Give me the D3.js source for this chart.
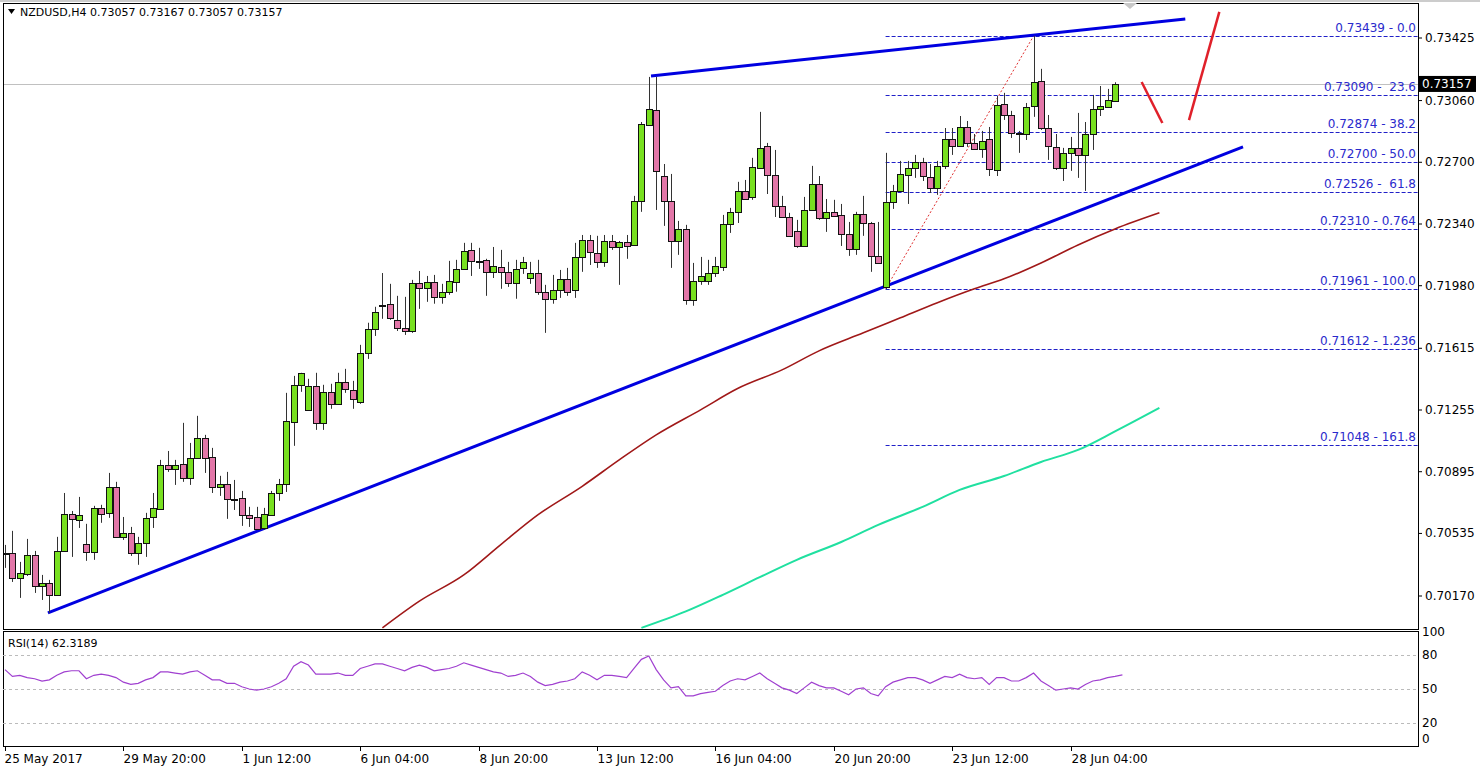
<!DOCTYPE html>
<html><head><meta charset="utf-8">
<script src="https://cdn.jsdelivr.net/npm/d3@7"></script>
<style>body{margin:0;background:#fff}svg{display:block}text{font-family:"DejaVu Sans",Verdana,sans-serif}</style>
</head><body><svg id="c" width="1480" height="772"></svg>
<script>
const opens=[0.70422,0.70422,0.70275,0.70299,0.70410,0.70229,0.70247,0.70177,0.70433,0.70649,0.70614,0.70474,0.70428,0.70684,0.70655,0.70807,0.70515,0.70538,0.70422,0.70480,0.70631,0.70678,0.70935,0.70911,0.70941,0.70859,0.70976,0.71092,0.70982,0.70807,0.70824,0.70737,0.70742,0.70643,0.70631,0.70567,0.70643,0.70771,0.70824,0.71185,0.71402,0.71256,0.71396,0.71180,0.71361,0.71291,0.71419,0.71372,0.71302,0.71588,0.71728,0.71863,0.71875,0.71781,0.71734,0.71716,0.71997,0.71968,0.72002,0.71915,0.71945,0.72002,0.72078,0.72189,0.72125,0.72131,0.72061,0.72090,0.72061,0.71997,0.72084,0.72025,0.72055,0.71945,0.71904,0.71956,0.72020,0.71956,0.72148,0.72247,0.72171,0.72119,0.72241,0.72206,0.72236,0.72218,0.72475,0.72918,0.73005,0.72620,0.72475,0.72241,0.72311,0.71898,0.72008,0.72008,0.72055,0.72090,0.72340,0.72411,0.72533,0.72498,0.72667,0.72796,0.72626,0.72445,0.72381,0.72300,0.72212,0.72422,0.72573,0.72375,0.72411,0.72393,0.72282,0.72195,0.72399,0.72346,0.72154,0.71973,0.72469,0.72533,0.72626,0.72667,0.72702,0.72614,0.72550,0.72679,0.72836,0.72796,0.72906,0.72813,0.72778,0.72836,0.72655,0.73041,0.72976,0.72871,0.72865,0.73029,0.73175,0.72900,0.72790,0.72667,0.72755,0.72784,0.72743,0.72865,0.73011,0.73023,0.73057];
const highs=[0.70468,0.70550,0.70369,0.70503,0.70433,0.70293,0.70264,0.70515,0.70771,0.70666,0.70748,0.70591,0.70696,0.70702,0.70888,0.70836,0.70631,0.70573,0.70515,0.70655,0.70771,0.70964,0.71016,0.70964,0.71180,0.71063,0.71221,0.71110,0.71034,0.70871,0.70894,0.70847,0.70783,0.70690,0.70690,0.70684,0.70783,0.70853,0.71355,0.71454,0.71472,0.71437,0.71472,0.71402,0.71408,0.71472,0.71495,0.71425,0.71635,0.71764,0.71857,0.72054,0.71991,0.71921,0.71915,0.72014,0.72066,0.72037,0.72043,0.71991,0.72125,0.72131,0.72230,0.72230,0.72201,0.72137,0.72206,0.72189,0.72119,0.72131,0.72148,0.72119,0.72131,0.71985,0.72043,0.72072,0.72084,0.72230,0.72276,0.72276,0.72271,0.72276,0.72276,0.72241,0.72276,0.72504,0.72935,0.73198,0.73198,0.72690,0.72632,0.72358,0.72335,0.72113,0.72148,0.72131,0.72148,0.72393,0.72434,0.72586,0.72597,0.72726,0.72994,0.72813,0.72772,0.72504,0.72405,0.72364,0.72498,0.72679,0.72620,0.72486,0.72481,0.72457,0.72352,0.72411,0.72504,0.72352,0.72352,0.72755,0.72568,0.72708,0.72708,0.72743,0.72726,0.72690,0.72708,0.72900,0.72900,0.72970,0.72941,0.72865,0.72883,0.72906,0.73087,0.73105,0.73000,0.72883,0.73046,0.73437,0.73245,0.72976,0.72865,0.72784,0.72848,0.72988,0.72935,0.73093,0.73145,0.73128,0.73167];
const lows=[0.70334,0.70252,0.70159,0.70287,0.70188,0.70147,0.70072,0.70177,0.70433,0.70398,0.70567,0.70375,0.70381,0.70597,0.70626,0.70515,0.70497,0.70404,0.70352,0.70398,0.70567,0.70672,0.70894,0.70818,0.70836,0.70818,0.70970,0.70888,0.70771,0.70754,0.70620,0.70672,0.70579,0.70573,0.70556,0.70556,0.70643,0.70725,0.70777,0.71046,0.71361,0.71256,0.71139,0.71139,0.71262,0.71285,0.71355,0.71262,0.71291,0.71553,0.71687,0.71787,0.71781,0.71716,0.71693,0.71705,0.71845,0.71886,0.71875,0.71875,0.71927,0.71945,0.72072,0.72037,0.72078,0.71921,0.72025,0.71962,0.71973,0.71904,0.72049,0.71991,0.71927,0.71705,0.71875,0.71909,0.71921,0.71909,0.72061,0.72101,0.72084,0.72090,0.72189,0.71985,0.72137,0.72212,0.72411,0.72912,0.72422,0.72329,0.72084,0.72160,0.71869,0.71863,0.71985,0.71985,0.72031,0.72066,0.72288,0.72346,0.72481,0.72481,0.72667,0.72515,0.72381,0.72375,0.72265,0.72201,0.72212,0.72422,0.72364,0.72294,0.72393,0.72212,0.72154,0.72160,0.72271,0.72061,0.72107,0.71961,0.72428,0.72533,0.72457,0.72609,0.72591,0.72521,0.72510,0.72661,0.72743,0.72790,0.72790,0.72772,0.72726,0.72620,0.72620,0.72947,0.72842,0.72755,0.72830,0.72965,0.72889,0.72714,0.72655,0.72591,0.72650,0.72609,0.72533,0.72772,0.72970,0.73017,0.73057];
const closes=[0.70422,0.70275,0.70305,0.70410,0.70229,0.70247,0.70177,0.70433,0.70649,0.70620,0.70643,0.70428,0.70684,0.70649,0.70807,0.70515,0.70538,0.70422,0.70480,0.70626,0.70684,0.70935,0.70911,0.70935,0.70859,0.70976,0.71092,0.70976,0.70807,0.70824,0.70737,0.70737,0.70643,0.70626,0.70562,0.70649,0.70771,0.70824,0.71191,0.71402,0.71472,0.71396,0.71180,0.71361,0.71291,0.71419,0.71378,0.71320,0.71588,0.71728,0.71828,0.71869,0.71793,0.71734,0.71716,0.71997,0.71968,0.72002,0.71915,0.71945,0.72008,0.72078,0.72183,0.72125,0.72125,0.72061,0.72096,0.72061,0.71997,0.72078,0.72119,0.72055,0.71945,0.71904,0.71956,0.72020,0.71945,0.72148,0.72247,0.72177,0.72119,0.72241,0.72206,0.72236,0.72212,0.72475,0.72923,0.73011,0.72650,0.72475,0.72241,0.72311,0.71898,0.72008,0.72037,0.72055,0.72096,0.72340,0.72411,0.72533,0.72486,0.72673,0.72784,0.72626,0.72445,0.72381,0.72270,0.72212,0.72422,0.72573,0.72375,0.72411,0.72387,0.72282,0.72195,0.72399,0.72346,0.72154,0.72113,0.72469,0.72533,0.72632,0.72667,0.72702,0.72620,0.72550,0.72679,0.72836,0.72796,0.72906,0.72813,0.72778,0.72825,0.72661,0.73035,0.72976,0.72871,0.72871,0.73023,0.73169,0.72900,0.72796,0.72667,0.72755,0.72784,0.72743,0.72865,0.73011,0.73029,0.73064,0.73157];
const rsi=[67,61,62,60,59,57,58,62,65,66,66,59,62,63,62,60,56,54,55,58,60,65,65,64,63,65,66,62,58,58,55,55,52,50,49,50,52,55,59,70,74,71,63,63,63,64,62,62,68,70,72,72,70,68,66,69,71,69,66,67,68,70,73,71,69,67,65,64,61,62,64,61,56,53,54,56,57,59,65,62,58,62,62,61,60,68,76,79,67,58,51,52,44,44,46,47,48,53,57,59,58,61,64,59,55,51,49,46,51,56,53,51,51,48,45,50,51,46,44,52,56,58,60,60,58,55,58,61,60,63,60,59,60,54,60,60,57,57,60,64,57,53,49,50,51,50,54,57,58,60,61,62.3189];
const maRedIdx=[51,56,62,67,72,78,83,88,94,99,105,110,116,121,126,131,135,140,145,150,156];
const maRedVal=[0.69984,0.70140,0.70293,0.70470,0.70643,0.70810,0.70964,0.71110,0.71256,0.71380,0.71489,0.71600,0.71705,0.71793,0.71881,0.71962,0.72020,0.72113,0.72218,0.72311,0.72405];
const maGreenIdx=[86,92,97,102,107,113,118,124,129,135,140,145,150,156];
const maGreenVal=[0.69984,0.70080,0.70177,0.70280,0.70381,0.70485,0.70585,0.70690,0.70789,0.70870,0.70952,0.71022,0.71130,0.71267];
const fibPrices=[0.73439,0.73090,0.72874,0.72700,0.72526,0.72310,0.71961,0.71612,0.71048];
const fibLabels=["0.73439 - 0.0","0.73090 -  23.6","0.72874 - 38.2","0.72700 - 50.0","0.72526 -  61.8","0.72310 - 0.764","0.71961 - 100.0","0.71612 - 1.236","0.71048 - 161.8"];
const priceTicks=[0.73425,0.73060,0.72700,0.72340,0.71980,0.71615,0.71255,0.70895,0.70535,0.70170];
const dateIdx=[0,16,32,48,64,80,96,112,128,144];
const dateLabels=["25 May 2017","29 May 20:00","1 Jun 12:00","6 Jun 04:00","8 Jun 20:00","13 Jun 12:00","16 Jun 04:00","20 Jun 20:00","23 Jun 12:00","28 Jun 04:00"];
const rsiTicks=[100,80,50,20,0];
const trendLow=[[5.8,0.70072],[167.3,0.72790]];
const trendHigh=[[87.3,0.73204],[159.5,0.73536]];
const arrow1=[[153.6,0.73168],[156.4,0.72929]];
const arrow2=[[160,0.72946],[164.1,0.73577]];
const fibFrom=119, fibTo=139;

const svg=d3.select("#c");
const L=3,R=1418,T=3,B=629,RT=631,RB=746;
const x=d3.scaleLinear().domain([0,150]).range([5,1115]);
const y=d3.scaleLinear().domain([0.70170,0.73425]).range([596,38]);
const yr=d3.scaleLinear().domain([0,100]).range([746,632]);
const defs=svg.append("defs");
defs.append("clipPath").attr("id","cm").append("rect").attr("x",L).attr("y",T).attr("width",R-L).attr("height",B-T);
defs.append("clipPath").attr("id","cr").append("rect").attr("x",L).attr("y",RT).attr("width",R-L).attr("height",RB-RT);
const g=svg.append("g").attr("clip-path","url(#cm)");
g.append("line").attr("x1",L).attr("x2",R).attr("y1",Math.round(y(closes[closes.length-1]))+0.5).attr("y2",Math.round(y(closes[closes.length-1]))+0.5).attr("stroke","#c0c0c0");
fibPrices.forEach((p,i)=>{
  g.append("line").attr("x1",x(fibFrom)).attr("x2",R).attr("y1",Math.round(y(p))+0.5).attr("y2",Math.round(y(p))+0.5).attr("stroke","#2020c8").attr("stroke-dasharray","4,2");
  svg.append("text").attr("x",R-2).attr("y",y(p)-4).attr("text-anchor","end").attr("font-size",12).attr("fill","#2a2acc").attr("xml:space","preserve").text(fibLabels[i]);
});
g.append("line").attr("x1",x(fibFrom)).attr("y1",y(lows[fibFrom])).attr("x2",x(fibTo)).attr("y2",y(highs[fibTo])).attr("stroke","#e03030").attr("stroke-dasharray","2,2");
const ln=d3.line().x(d=>x(d[0])).y(d=>y(d[1]));
const lnS=d3.line().x(d=>x(d[0])).y(d=>y(d[1])).curve(d3.curveMonotoneX);
g.append("path").attr("d",lnS(maRedIdx.map((k,i)=>[k,maRedVal[i]]))).attr("fill","none").attr("stroke","#a01818").attr("stroke-width",1.6);
g.append("path").attr("d",lnS(maGreenIdx.map((k,i)=>[k,maGreenVal[i]]))).attr("fill","none").attr("stroke","#20e0a0").attr("stroke-width",2);
[trendLow,trendHigh].forEach(t=>g.append("path").attr("d",ln(t)).attr("stroke","#0000e0").attr("stroke-width",3).attr("fill","none"));
[arrow1,arrow2].forEach(t=>g.append("path").attr("d",ln(t)).attr("stroke","#e0202a").attr("stroke-width",2.5).attr("fill","none"));
closes.forEach((c,i)=>{
  const o=opens[i],cx=Math.round(x(i))+0.5,up=c>=o;
  g.append("line").attr("x1",cx).attr("x2",cx).attr("y1",y(highs[i])).attr("y2",y(lows[i])).attr("stroke","#333").attr("stroke-width",1);
  const y0=Math.round(y(Math.max(o,c)))+0.5,y1=Math.round(y(Math.min(o,c)))+0.5;
  g.append("rect").attr("x",cx-3).attr("y",y0).attr("width",6).attr("height",Math.max(1,y1-y0)).attr("fill",up?"#78e020":"#e276a8").attr("stroke","#111").attr("stroke-width",1);
});
svg.append("rect").attr("x",L+0.5).attr("y",T+0.5).attr("width",R-L).attr("height",B-T).attr("fill","none").attr("stroke","#000");
svg.append("rect").attr("x",L+0.5).attr("y",RT+0.5).attr("width",R-L).attr("height",RB-RT).attr("fill","none").attr("stroke","#000");
svg.append("line").attr("x1",0).attr("x2",1480).attr("y1",1).attr("y2",1).attr("stroke","#999");
priceTicks.forEach(p=>{
  svg.append("line").attr("x1",R).attr("x2",R+4).attr("y1",y(p)).attr("y2",y(p)).attr("stroke","#000");
  svg.append("text").attr("x",R+7).attr("y",y(p)+4).attr("font-size",12).attr("fill","#000").text(p.toFixed(5));
});
const lc=closes[closes.length-1];
svg.append("rect").attr("x",R+1).attr("y",y(lc)-8).attr("width",57).attr("height",16).attr("fill","#000");
svg.append("text").attr("x",R+4).attr("y",y(lc)+4).attr("font-size",12).attr("fill","#fff").text(lc.toFixed(5));
svg.append("path").attr("d","M8,9 L15,9 L11.5,14 Z").attr("fill","#000");
svg.append("text").attr("x",20).attr("y",16).attr("font-size",11).text("NZDUSD,H4  0.73057 0.73167 0.73057 0.73157");
svg.append("path").attr("d","M1123,3 L1137,3 L1130,9 Z").attr("fill","#c8c8c8");
const gr=svg.append("g").attr("clip-path","url(#cr)");
[80,50,20].forEach(v=>gr.append("line").attr("x1",L).attr("x2",R).attr("y1",Math.round(yr(v))+0.5).attr("y2",Math.round(yr(v))+0.5).attr("stroke","#bbb").attr("stroke-dasharray","3,3"));
gr.append("path").attr("d",d3.line().x((d,i)=>x(i)).y(d=>yr(d))(rsi)).attr("fill","none").attr("stroke","#a040d0").attr("stroke-width",1.2);
svg.append("text").attr("x",8).attr("y",647).attr("font-size",11).text("RSI(14) 62.3189");
rsiTicks.forEach(v=>svg.append("text").attr("x",R+4).attr("y",yr(v)+(v===0?-3:4)).attr("font-size",12).text(v));
dateIdx.forEach((k,i)=>{
  const tx=Math.round(x(k))+0.5;
  svg.append("line").attr("x1",tx).attr("x2",tx).attr("y1",RB).attr("y2",RB+5).attr("stroke","#000");
  svg.append("text").attr("x",tx+(i===0?-1:0)).attr("y",763).attr("font-size",12).text(dateLabels[i]);
});
</script></body></html>
